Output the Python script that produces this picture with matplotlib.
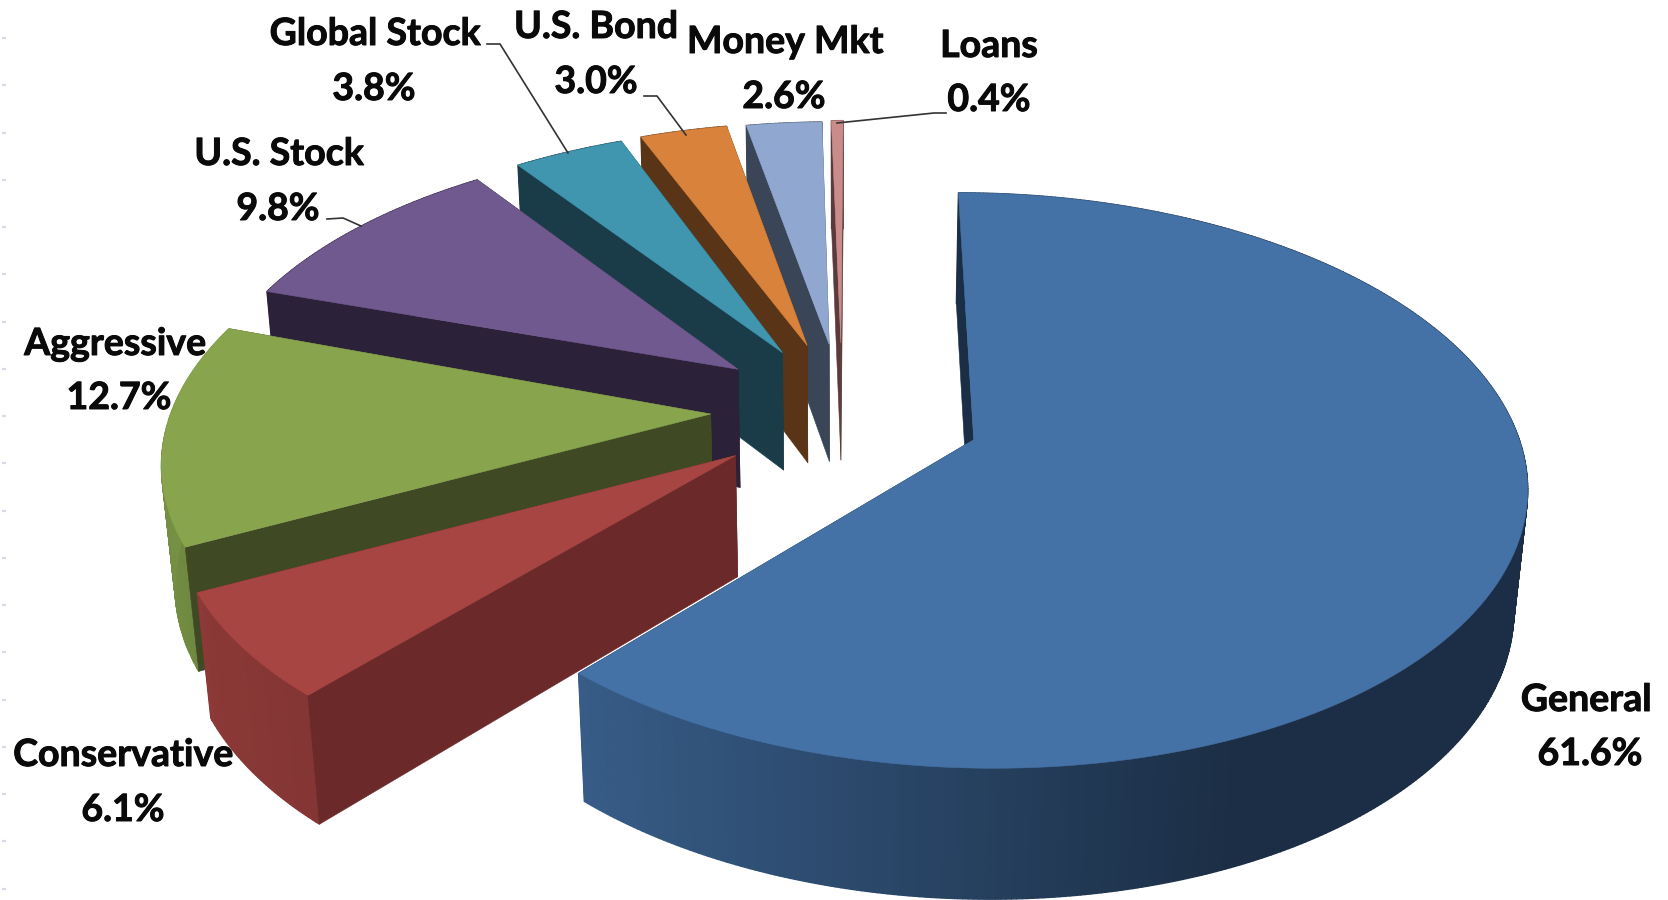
import numpy as np
import matplotlib
matplotlib.use("Agg")
import matplotlib.pyplot as plt
import matplotlib.patheffects as pe
from matplotlib.patches import Polygon
from matplotlib.colors import to_rgb

# ---- data ----
categories = ["General", "Conservative", "Aggressive", "U.S. Stock",
              "Global Stock", "U.S. Bond", "Money Mkt", "Loans"]
values = [61.6, 6.1, 12.7, 9.8, 3.8, 3.0, 2.6, 0.4]
pct_labels = ["61.6%", "6.1%", "12.7%", "9.8%", "3.8%", "3.0%", "2.6%", "0.4%"]

# ---- styles ----
top_colors = ["#4471A6", "#A64542", "#88A54D", "#70598E", "#3F96AE", "#D9823B", "#90A7CF", "#C98C8A"]
wall_colors = ["#1A2E45", "#6B2929", "#3F4A24", "#2B2138", "#1A3C48", "#5A3416", "#3A4558", "#5A3A3A"]
rim_left = ["#375C87", "#8C3937", "#7D9848", "#2B2138", "#1A3C48", "#5A3416", "#3A4558", "#5A3A3A"]
rim_right = ["#1B2E45", "#843634", "#6F8A40", "#2B2138", "#1A3C48", "#5A3416", "#3A4558", "#5A3A3A"]

# ---- layout: per-slice explosion, shear and apex adjustment ----
explode = [0.258, 0.250, 0.243, 0.243, 0.243, 0.243, 0.243, 0.243]
shear = [0, 6, 6, 6, 6, 3, 3, 2]
apex_lift = [3, 2, 3, 7, 6, 8, 8, 8]
apex_dx = [0, 4, 0, -2, 0, 0, 0, 0]
slice_dy = [1, -1, -3, 0, 0, 0, 1, 0]
end_pad_deg = [0.8, 0, 0, 0, 0, 0, 0, 0]

# ---- projection of the 3-D pie onto the picture (pixels) ----
CX, CY = 842, 416
SX, SY, DEPTH = 540, 276, 122
PERSP_V, PERSP_Z = 0.13, 0.02


def project(u, v, z, sh=0.0, dy=0.0):
    d = 1 + PERSP_V * v + PERSP_Z * z
    return CX + SX * u / d + sh * v, CY + (-SY * v + DEPTH * z) / d + dy


def blend(a, b, t):
    a, b = np.array(to_rgb(a)), np.array(to_rgb(b))
    return tuple(a + (b - a) * t)


fig = plt.figure(figsize=(16.68, 9), dpi=100, facecolor="white")
ax = fig.add_axes([0, 0, 1, 1])
ax.set_xlim(0, 1668)
ax.set_ylim(900, 0)
ax.axis("off")

# faint remnants of an axis along the left edge
ax.hlines(np.arange(38, 900, 47.25), 2, 6, color="#D6DBE8", lw=1.6)

ends = np.cumsum(values) / sum(values) * 360
starts = ends - np.array(values) / sum(values) * 360
order = [7, 6, 5, 4, 3, 2, 1, 0]

for i in order:
    a0, a1 = np.radians(starts[i]), np.radians(ends[i])
    mid = (a0 + a1) / 2
    ou, ov = explode[i] * np.sin(mid), explode[i] * np.cos(mid)
    a1 = a1 + np.radians(end_pad_deg[i])
    sh, dy = shear[i], slice_dy[i]
    angs = np.linspace(a0, a1, max(int(np.degrees(a1 - a0) * 2), 6) + 1)
    us, vs = ou + np.sin(angs), ov + np.cos(angs)
    ax0 = project(ou, ov, 0, sh, dy - apex_lift[i])
    ax1 = project(ou, ov, 1, sh, dy - apex_lift[i])
    ax0 = (ax0[0] + apex_dx[i], ax0[1])
    ax1 = (ax1[0] + apex_dx[i], ax1[1])

    def wall(ang):
        eu, ev = ou + np.sin(ang), ov + np.cos(ang)
        pts = [ax0, project(eu, ev, 0, sh, dy), project(eu, ev, 1, sh, dy), ax1]
        ax.add_patch(Polygon(pts, closed=True, fc=wall_colors[i], ec=wall_colors[i], lw=0.4))

    wall(a1)
    # outer rim, shaded along its sweep
    for j in range(len(angs) - 1):
        t = j / (len(angs) - 2)
        col = blend(rim_right[i], rim_left[i], t)
        if i == 0:
            xp = project(us[j], vs[j], 0)[0]
            t = np.clip((xp - 580) / 660, 0, 1)
            col = blend(rim_left[i], rim_right[i], t)
        pts = [project(us[j], vs[j], 0, sh, dy), project(us[j + 1], vs[j + 1], 0, sh, dy),
               project(us[j + 1], vs[j + 1], 1, sh, dy), project(us[j], vs[j], 1, sh, dy)]
        ax.add_patch(Polygon(pts, closed=True, fc=col, ec=col, lw=1.0))
    wall(a0)
    # top face
    top = [ax0] + [project(a, b, 0, sh, dy) for a, b in zip(us, vs)]
    ax.add_patch(Polygon(top, closed=True, fc=top_colors[i], ec=top_colors[i], lw=0.4))

# ---- labels ----
name_xy = {"General": (1586, 700), "Conservative": (123, 755), "Aggressive": (115, 344),
           "U.S. Stock": (279, 154), "Global Stock": (375, 34), "U.S. Bond": (596, 27),
           "Money Mkt": (785, 42), "Loans": (989, 46)}
pct_xy = {"General": (1590, 754), "Conservative": (123, 810), "Aggressive": (119, 398),
          "U.S. Stock": (278, 209), "Global Stock": (374, 89), "U.S. Bond": (596, 82),
          "Money Mkt": (784, 97), "Loans": (989, 100)}
font = dict(family="Lato", weight="bold", fontsize=27, color="#0A0A0A", ha="center", va="center",
            path_effects=[pe.withStroke(linewidth=0.7, foreground="#0A0A0A")])
for name, pct in zip(categories, pct_labels):
    ax.text(*name_xy[name], name, **font)
    ax.text(*pct_xy[name], pct, **font)

# ---- leader lines ----
leaders = [[(487, 44), (500, 44), (568, 153)],
           [(644, 96), (657, 96), (686, 135)],
           [(327, 219), (343, 218), (361, 226)],
           [(946, 113), (934, 113), (837, 123)]]
for line in leaders:
    ax.plot(*zip(*line), color="#333333", lw=1.2)

fig.savefig("out.png", dpi=100, facecolor="white")
